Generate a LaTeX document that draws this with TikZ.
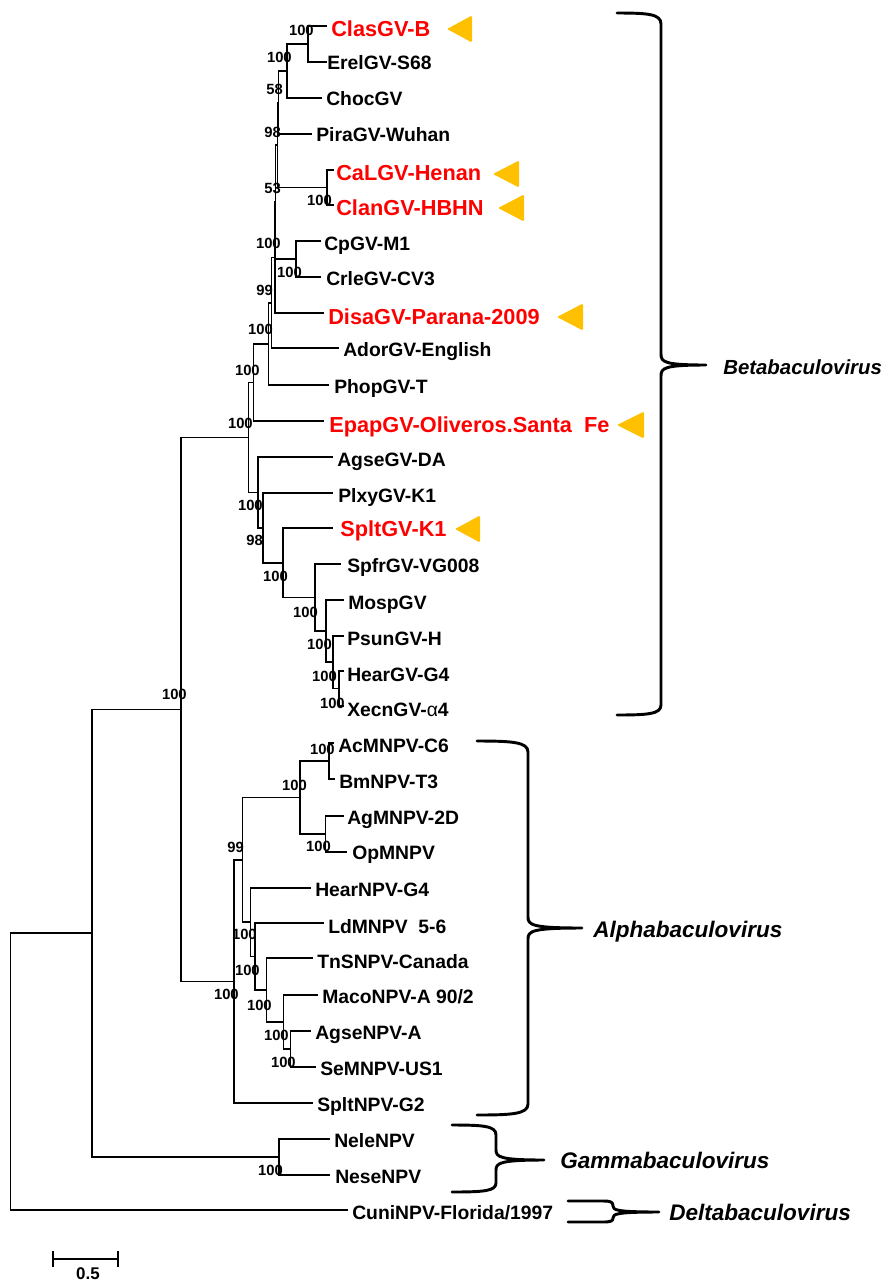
\documentclass[tikz,border=0pt]{standalone}
\usepackage{fontspec}
\setmainfont{Liberation Sans}
\definecolor{gold}{RGB}{255,192,0}
\definecolor{vred}{RGB}{255,0,0}
\begin{document}
\begin{tikzpicture}[x=0.75pt,y=-0.75pt,
  branch/.style={line width=0.95pt,line cap=rect},
  leaf/.style={anchor=west,inner sep=0pt,text height=10.4pt,text depth=0pt,font=\fontsize{14.5}{16}\selectfont\bfseries},
  redleaf/.style={anchor=west,inner sep=0pt,text height=11.7pt,text depth=0pt,text=vred,font=\fontsize{16.3}{18}\selectfont\bfseries},
  boot/.style={anchor=east,inner sep=0pt,text height=7.95pt,text depth=0pt,font=\fontsize{11.1}{12}\selectfont\bfseries},
  genus/.style={anchor=west,inner sep=0pt,text height=12.1pt,text depth=0pt,font=\fontsize{16.9}{18}\selectfont\bfseries\itshape},
  bracket/.style={line width=2.2pt,line cap=round,line join=round},
  tri/.style={fill=gold,rounded corners=1pt}]
\fill[white] (0,0) rectangle (883,1283);
\useasboundingbox (0,0) rectangle (883,1283);

% ---------- leaf tips ----------
\coordinate (t0) at (326,26);   \coordinate (t1) at (326,62);
\coordinate (t2) at (321,98);   \coordinate (t3) at (311,134);
\coordinate (t4) at (333,170);  \coordinate (t5) at (333,205);
\coordinate (t6) at (320,241);  \coordinate (t7) at (320,277);
\coordinate (t8) at (323,313);  \coordinate (t9) at (338,348);
\coordinate (t10) at (328,385); \coordinate (t11) at (323,421);
\coordinate (t12) at (332,457); \coordinate (t13) at (332,493);
\coordinate (t14) at (332,528); \coordinate (t15) at (340,564);
\coordinate (t16) at (343,600); \coordinate (t17) at (343,636);
\coordinate (t18) at (343,671); \coordinate (t19) at (343,706);
\coordinate (t20) at (333,743); \coordinate (t21) at (334,779);
\coordinate (t22) at (343,816); \coordinate (t23) at (346,852);
\coordinate (t24) at (310,888); \coordinate (t25) at (323,923);
\coordinate (t26) at (312,958); \coordinate (t27) at (317,995);
\coordinate (t28) at (310,1031);\coordinate (t29) at (315,1067);
\coordinate (t30) at (312,1103);\coordinate (t31) at (329,1139);
\coordinate (t32) at (329,1175);\coordinate (t33) at (347,1210);

% ---------- internal nodes ----------
\coordinate (nClEr) at (308,44);
\coordinate (nA) at (287,71);
\coordinate (nB) at (278.3,102.5);
\coordinate (nCaCl) at (327,187.5);
\coordinate (nC) at (277.3,145);
\coordinate (nCpCr) at (296,259);
\coordinate (nD1) at (275.7,202);
\coordinate (nD2) at (275,257.5);
\coordinate (nX) at (271.7,303);
\coordinate (nPh) at (268.3,344);
\coordinate (nEp) at (253.3,382.5);
\coordinate (nHX) at (339,688.5);
\coordinate (nPHX) at (333,662);
\coordinate (nMPHX) at (326,631);
\coordinate (nS) at (315,597.5);
\coordinate (nSplt) at (283,563);
\coordinate (nPl) at (263,528);
\coordinate (nAg) at (258,492.5);
\coordinate (nBeta) at (248.3,437.5);
\coordinate (nAcBm) at (329,761);
\coordinate (nAgOp) at (325.5,834);
\coordinate (nAO) at (300,797.5);
\coordinate (nAS) at (290.7,1049);
\coordinate (nM) at (283.3,1022);
\coordinate (nT) at (266.7,990);
\coordinate (nL) at (255,956.5);
\coordinate (nH) at (250.7,922);
\coordinate (n99) at (242.7,860);
\coordinate (nAlpha) at (234,981.5);
\coordinate (nBA) at (181,709.5);
\coordinate (nGam) at (279,1157);
\coordinate (nBAG) at (92,933);
\coordinate (nRoot) at (10.7,1071.5);

% ---------- branches ----------
\foreach \p/\c in {nClEr/t0,nClEr/t1,nA/nClEr,nA/t2,nB/nA,nB/t3,nCaCl/t4,nCaCl/t5,
  nC/nB,nC/nCaCl,nCpCr/t6,nCpCr/t7,nD1/nC,nD1/nCpCr,nD2/nD1,nD2/t8,nX/nD2,nX/t9,
  nPh/nX,nPh/t10,nEp/nPh,nEp/t11,nHX/t18,nHX/t19,nPHX/t17,nPHX/nHX,nMPHX/t16,nMPHX/nPHX,
  nS/t15,nS/nMPHX,nSplt/t14,nSplt/nS,nPl/t13,nPl/nSplt,nAg/t12,nAg/nPl,nBeta/nEp,nBeta/nAg,
  nAcBm/t20,nAcBm/t21,nAgOp/t22,nAgOp/t23,nAO/nAcBm,nAO/nAgOp,nAS/t28,nAS/t29,nM/t27,nM/nAS,
  nT/t26,nT/nM,nL/t25,nL/nT,nH/t24,nH/nL,n99/nAO,n99/nH,nAlpha/n99,nAlpha/t30,
  nBA/nBeta,nBA/nAlpha,nGam/t31,nGam/t32,nBAG/nBA,nBAG/nGam,nRoot/nBAG,nRoot/t33}
  \draw[branch] (\p) |- (\c);

% ---------- leaf labels ----------
\node[redleaf] (l0) at (331,29) {ClasGV-B};
\node[leaf] (l1) at (327,63) {ErelGV-S68};
\node[leaf] (l2) at (326,99) {ChocGV};
\node[leaf] (l3) at (316,135) {PiraGV-Wuhan};
\node[redleaf] (l4) at (336,173) {CaLGV-Henan};
\node[redleaf] (l5) at (336,208) {ClanGV-HBHN};
\node[leaf] (l6) at (324,244) {CpGV-M1};
\node[leaf] (l7) at (326,279) {CrleGV-CV3};
\node[redleaf] (l8) at (328,317) {DisaGV-Parana-2009};
\node[leaf] (l9) at (343,350) {AdorGV-English};
\node[leaf] (l10) at (334,387) {PhopGV-T};
\node[redleaf] (l11) at (329,425) {EpapGV-Oliveros.Santa\ \ Fe};
\node[leaf] (l12) at (337,460) {AgseGV-DA};
\node[leaf] (l13) at (338,496) {PlxyGV-K1};
\node[redleaf] (l14) at (340,529) {SpltGV-K1};
\node[leaf] (l15) at (347,566) {SpfrGV-VG008};
\node[leaf] (l16) at (348,603) {MospGV};
\node[leaf] (l17) at (347,639) {PsunGV-H};
\node[leaf] (l18) at (347,675) {HearGV-G4};
\node[leaf] (l19) at (347,710) {XecnGV-{\mdseries α}4};
\node[leaf] (l20) at (338,746) {AcMNPV-C6};
\node[leaf] (l21) at (339,782) {BmNPV-T3};
\node[leaf] (l22) at (347,818) {AgMNPV-2D};
\node[leaf] (l23) at (352,853) {OpMNPV};
\node[leaf] (l24) at (315,890) {HearNPV-G4};
\node[leaf] (l25) at (328,927) {LdMNPV\ \ 5-6};
\node[leaf] (l26) at (317,962) {TnSNPV-Canada};
\node[leaf] (l27) at (322,997) {MacoNPV-A 90/2};
\node[leaf] (l28) at (315,1033) {AgseNPV-A};
\node[leaf] (l29) at (320,1069) {SeMNPV-US1};
\node[leaf] (l30) at (317,1105) {SpltNPV-G2};
\node[leaf] (l31) at (334,1141) {NeleNPV};
\node[leaf] (l32) at (335,1177) {NeseNPV};
\node[leaf] (l33) at (352,1213) {CuniNPV-Florida/1997};

% ---------- bootstrap values ----------
\node[boot] (b1) at (314,30) {100};
\node[boot] (b2) at (292,57) {100};
\node[boot] (b3) at (283,89) {58};
\node[boot] (b4) at (281,132) {98};
\node[boot] (b5) at (281,188) {53};
\node[boot] (b6) at (332,200) {100};
\node[boot] (b7) at (281,243) {100};
\node[boot] (b8) at (302,272) {100};
\node[boot] (b9) at (273,290) {99};
\node[boot] (b10) at (273,329) {100};
\node[boot] (b11) at (260,370) {100};
\node[boot] (b12) at (253,423) {100};
\node[boot] (b13) at (263,505) {100};
\node[boot] (b14) at (263,540) {98};
\node[boot] (b15) at (288,576) {100};
\node[boot] (b16) at (318,612) {100};
\node[boot] (b17) at (332,644) {100};
\node[boot] (b18) at (337,676) {100};
\node[boot] (b19) at (345,703) {100};
\node[boot] (b20) at (187,694) {100};
\node[boot] (b21) at (335,749) {100};
\node[boot] (b22) at (307,785) {100};
\node[boot] (b23) at (331,846) {100};
\node[boot] (b24) at (244,847) {99};
\node[boot] (b25) at (257,934) {100};
\node[boot] (b26) at (260,970) {100};
\node[boot] (b27) at (239,994) {100};
\node[boot] (b28) at (272,1005) {100};
\node[boot] (b29) at (289,1035) {100};
\node[boot] (b30) at (296,1062) {100};
\node[boot] (b31) at (283,1170) {100};

% ---------- markers ----------
\fill[tri] (447,29) -- (472,15.5) -- (472,42.5) -- cycle;
\fill[tri] (493,174) -- (519,160.5) -- (519,187.5) -- cycle;
\fill[tri] (498,208) -- (524,194.5) -- (524,221.5) -- cycle;
\fill[tri] (557,317) -- (583,303.5) -- (583,330.5) -- cycle;
\fill[tri] (617,425) -- (644,411.5) -- (644,438.5) -- cycle;
\fill[tri] (455,529) -- (480,515.5) -- (480,542.5) -- cycle;

% ---------- braces ----------
\draw[bracket] (617,13) .. controls (648,13) and (661,14) .. (661,24) -- (661,354)
  .. controls (661,362) and (664,365) .. (706,365)
  .. controls (664,365) and (661,368) .. (661,376) -- (661,705)
  .. controls (661,714) and (648,715) .. (617,715);
\draw[bracket] (477,741) .. controls (512,741) and (528,742) .. (528,752) -- (528,917)
  .. controls (528,925) and (532,928) .. (582,928)
  .. controls (532,928) and (528,931) .. (528,939) -- (528,1104)
  .. controls (528,1114) and (512,1115) .. (477,1115);
\draw[bracket] (452,1125) .. controls (484,1125) and (496,1126) .. (496,1135) -- (496,1150)
  .. controls (496,1157) and (500,1160) .. (544,1160)
  .. controls (500,1160) and (496,1163) .. (496,1170) -- (496,1183)
  .. controls (496,1191) and (484,1192) .. (452,1192);
\draw[bracket] (568,1201) -- (603,1201) .. controls (611,1201) and (613,1202) .. (613,1206)
  .. controls (613,1210) and (616,1212) .. (659,1212)
  .. controls (616,1212) and (613,1214) .. (613,1218)
  .. controls (613,1221) and (611,1222) .. (603,1222) -- (568,1222);

% ---------- genus labels ----------
\node[genus,font=\fontsize{15.3}{17}\selectfont\bfseries\itshape,text height=11pt] (gBeta) at (723,367) {Betabaculovirus};
\node[genus] (gAlpha) at (593,929) {Alphabaculovirus};
\node[genus] (gGamma) at (560,1160) {Gammabaculovirus};
\node[genus] (gDelta) at (669,1212) {Deltabaculovirus};

% ---------- scale bar ----------
\coordinate (sbL) at (53,1259);
\coordinate (sbR) at (118,1259);
\coordinate (sbLt) at (53,1252);
\coordinate (sbLb) at (53,1266);
\coordinate (sbRt) at (118,1252);
\coordinate (sbRb) at (118,1266);
\draw[branch] (sbL) -- (sbR);
\draw[branch] (sbLt) -- (sbLb);
\draw[branch] (sbRt) -- (sbRb);
\node[anchor=center,inner sep=0pt,text height=9.1pt,text depth=0pt,font=\fontsize{12.7}{14}\selectfont\bfseries] (sblab) at (88,1273) {0.5};
\end{tikzpicture}
\end{document}
